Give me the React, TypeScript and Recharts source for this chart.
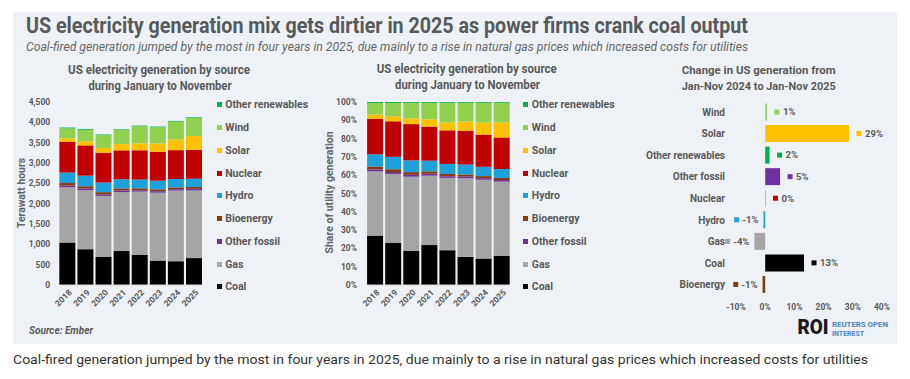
import React from 'react';
import { BarChart, Bar, XAxis, YAxis, Legend, LabelList, Cell } from 'recharts';

// Jan-Nov generation, TWh
const years = ['2018', '2019', '2020', '2021', '2022', '2023', '2024', '2025'];
const coal = [1045, 880, 690, 835, 745, 600, 585, 661];
const gas = [1358, 1450, 1500, 1450, 1550, 1670, 1735, 1666];
const otherFossil = [42, 40, 38, 40, 35, 37, 36, 38];
const bioenergy = [62, 58, 55, 52, 48, 47, 45, 45];
const hydro = [258, 260, 237, 222, 215, 210, 205, 203];
const nuclear = [752, 745, 734, 712, 720, 715, 710, 710];
const solar = [90, 100, 115, 153, 170, 200, 262, 338];
const wind = [245, 285, 315, 345, 420, 400, 440, 444];
const otherRenewables = [20, 20, 17, 17, 17, 17, 17, 17];

const twhTicks = [0, 500, 1000, 1500, 2000, 2500, 3000, 3500, 4000, 4500];
const shareTicks = [0, 0.1, 0.2, 0.3, 0.4, 0.5, 0.6, 0.7, 0.8, 0.9, 1];

// change Jan-Nov 2024 -> Jan-Nov 2025, %
const changeCategories = ['Wind', 'Solar', 'Other renewables', 'Other fossil', 'Nuclear', 'Hydro', 'Gas', 'Coal', 'Bioenergy'];
const changePct = [0.6, 28.7, 1.5, 5.1, 0.1, -0.6, -3.7, 13.3, -0.9];
const changeTicks = [-10, 0, 10, 20, 30, 40];

const COLORS: Record<string, string> = {
  Coal: '#000000',
  Gas: '#a5a5a5',
  'Other fossil': '#7030a0',
  Bioenergy: '#843c0c',
  Hydro: '#1ea0dc',
  Nuclear: '#c00000',
  Solar: '#ffc000',
  Wind: '#92d050',
  'Other renewables': '#00b050',
};

const sources = [
  { key: 'coal', name: 'Coal', values: coal },
  { key: 'gas', name: 'Gas', values: gas },
  { key: 'otherFossil', name: 'Other fossil', values: otherFossil },
  { key: 'bioenergy', name: 'Bioenergy', values: bioenergy },
  { key: 'hydro', name: 'Hydro', values: hydro },
  { key: 'nuclear', name: 'Nuclear', values: nuclear },
  { key: 'solar', name: 'Solar', values: solar },
  { key: 'wind', name: 'Wind', values: wind },
  { key: 'otherRenewables', name: 'Other renewables', values: otherRenewables },
];
const sourceOrder = sources.map((s) => s.name);

const genData = years.map((year, i) => {
  const row: Record<string, string | number> = { year };
  sources.forEach((s) => (row[s.key] = s.values[i]));
  return row;
});

const changeData = changeCategories.map((name, i) => ({ name, change: changePct[i] }));

const FONT = 'Roboto, sans-serif';
const GREY = '#595959';
const tickStyle = { fontSize: 8.5, fill: GREY, fontWeight: 700, fontFamily: FONT };

function YearTick({ x, y, payload }: any) {
  return (
    <text x={x + 3} y={y} transform={`rotate(-45 ${x + 3} ${y})`} textAnchor="end" dy="0.35em" style={tickStyle}>
      {payload.value}
    </text>
  );
}

// top of stack first, like the Excel legend
function SourceLegend({ payload }: any) {
  const items = [...(payload || [])].sort((a: any, b: any) => sourceOrder.indexOf(b.value) - sourceOrder.indexOf(a.value));
  return (
    <div style={{ whiteSpace: 'nowrap' }}>
      {items.map((it: any) => (
        <div key={it.value} style={{ display: 'flex', alignItems: 'center', height: 22.75 }}>
          <span style={{ width: 5, height: 5, background: it.color, marginRight: 3.5, display: 'inline-block' }} />
          <span style={{ fontFamily: FONT, fontSize: 10.5, fontWeight: 700, color: GREY }}>{it.value}</span>
        </div>
      ))}
    </div>
  );
}

function ChangeLabel(props: any) {
  const { x, y, width, height, value, index } = props;
  const left = Math.min(x, x + width);
  const right = Math.max(x, x + width);
  const cy = y + height / 2;
  const txt = `${Math.round(value)}%`;
  const color = COLORS[changeCategories[index]];
  const style = { fontSize: 9.5, fontWeight: 700, fill: GREY, fontFamily: FONT };
  if (value >= 0) {
    return (
      <g>
        <rect x={right + 7.5} y={cy - 2.5} width={5} height={5} fill={color} />
        <text x={right + 16} y={cy} dy="0.35em" style={style}>{txt}</text>
      </g>
    );
  }
  const tw = txt.length * 5.1;
  return (
    <g>
      <rect x={left - 5 - tw - 9} y={cy - 2.5} width={5} height={5} fill={color} />
      <text x={left - 5} y={cy} dy="0.35em" textAnchor="end" style={style}>{txt}</text>
    </g>
  );
}

function StackedChart({ expand, left, right, legendLeft }: { expand: boolean; left: number; right: number; legendLeft: number }) {
  return (
    <div style={{ position: 'absolute', left: 0, top: 0 }}>
      <BarChart
        width={910}
        height={379}
        data={genData}
        stackOffset={expand ? 'expand' : 'none'}
        barCategoryGap="6%"
        margin={{ top: 102, right, bottom: 64, left }}
      >
        <XAxis dataKey="year" height={30} tick={<YearTick />} tickLine={false} tickSize={0} tickMargin={6} axisLine={{ stroke: '#d9d9d9' }} interval={0} />
        {expand ? (
          <YAxis width={50} domain={[0, 1]} ticks={shareTicks} tickFormatter={(v: number) => `${Math.round(v * 100)}%`} tick={tickStyle} axisLine={false} tickLine={false} tickSize={0} tickMargin={9} />
        ) : (
          <YAxis width={50} domain={[0, 4500]} ticks={twhTicks} tickFormatter={(v: number) => v.toLocaleString('en-US')} tick={tickStyle} axisLine={false} tickLine={false} tickSize={0} tickMargin={8} />
        )}
        <Legend layout="vertical" align="center" verticalAlign="middle" wrapperStyle={{ left: legendLeft, top: 93.6, width: 120 }} content={<SourceLegend />} />
        {sources.map((s) => (
          <Bar key={s.key} dataKey={s.key} name={s.name} stackId="a" fill={COLORS[s.name]} isAnimationActive={false} />
        ))}
      </BarChart>
    </div>
  );
}

export default function App() {
  const t = { fontFamily: FONT, fontWeight: 700, fill: GREY } as const;
  return (
    <div style={{ position: 'absolute', left: 0, top: 0, width: 910, height: 379, background: '#fff', overflow: 'hidden' }}>
      <div style={{ position: 'absolute', left: 13, top: 12, width: 884, height: 332, background: '#eef2f7' }} />
      <StackedChart expand={false} left={8.25} right={707} legendLeft={216.7} />
      <StackedChart expand={true} left={316} right={399.3} legendLeft={523.3} />
      <div style={{ position: 'absolute', left: 0, top: 0 }}>
        <BarChart width={910} height={379} data={changeData} layout="vertical" margin={{ top: 101.5, right: 28, bottom: 63.5, left: 616 }}>
          <XAxis type="number" domain={[-10, 40]} ticks={changeTicks} tickFormatter={(v: number) => `${v}%`} height={20} tick={tickStyle} axisLine={false} tickLine={false} tickSize={0} tickMargin={8.5} />
          <YAxis type="category" dataKey="name" width={120} tick={{ ...tickStyle, fontSize: 10 }} axisLine={false} tickLine={false} tickSize={0} tickMargin={11} interval={0} />
          <Bar dataKey="change" barSize={17} isAnimationActive={false}>
            {changeData.map((d) => (
              <Cell key={d.name} fill={COLORS[d.name]} />
            ))}
            <LabelList dataKey="change" content={<ChangeLabel />} />
          </Bar>
        </BarChart>
      </div>
      <svg width={910} height={379} style={{ position: 'absolute', left: 0, top: 0, pointerEvents: 'none' }}>
        <text x={26} y={33} fontSize={22} textLength={722} lengthAdjust="spacingAndGlyphs" style={{ ...t, fill: '#58595b' }}>
          US electricity generation mix gets dirtier in 2025 as power firms crank coal output
        </text>
        <text x={26} y={51} fontSize={12.5} textLength={722} lengthAdjust="spacingAndGlyphs" fontStyle="italic" style={{ fontFamily: FONT, fill: '#666' }}>
          Coal-fired generation jumped by the most in four years in 2025, due mainly to a rise in natural gas prices which increased costs for utilities
        </text>

        <text x={159} y={74} fontSize={12.5} textAnchor="middle" textLength={182} lengthAdjust="spacingAndGlyphs" style={t}>US electricity generation by source</text>
        <text x={160} y={89.5} fontSize={12.5} textAnchor="middle" textLength={143} lengthAdjust="spacingAndGlyphs" style={t}>during January to November</text>
        <text x={466.7} y={73} fontSize={12.5} textAnchor="middle" textLength={180} lengthAdjust="spacingAndGlyphs" style={t}>US electricity generation by source</text>
        <text x={467.5} y={88.5} fontSize={12.5} textAnchor="middle" textLength={145} lengthAdjust="spacingAndGlyphs" style={t}>during January to November</text>
        <text x={758.7} y={74} fontSize={11.5} textAnchor="middle" textLength={154} lengthAdjust="spacingAndGlyphs" style={t}>Change in US generation from</text>
        <text x={758.7} y={89.5} fontSize={11.5} textAnchor="middle" textLength={154} lengthAdjust="spacingAndGlyphs" style={t}>Jan-Nov 2024 to Jan-Nov 2025</text>

        <text x={0} y={0} fontSize={10} textAnchor="middle" textLength={70} lengthAdjust="spacingAndGlyphs" transform="translate(24.5 193) rotate(-90)" style={{ ...t, fill: '#666' }}>Terawatt hours</text>
        <text x={0} y={0} fontSize={10} textAnchor="middle" textLength={122} lengthAdjust="spacingAndGlyphs" transform="translate(333 192.5) rotate(-90)" style={{ ...t, fill: '#666' }}>Share of utility generation</text>

        <text x={29} y={334} fontSize={10} fontStyle="italic" textLength={64} lengthAdjust="spacingAndGlyphs" style={t}>Source: Ember</text>

        <text x={797.5} y={334} fontSize={20} textLength={31} lengthAdjust="spacingAndGlyphs" style={{ fontFamily: FONT, fontWeight: 900, fill: '#1a1a1a' }}>ROI</text>
        <text x={832} y={326.5} fontSize={6.5} textLength={56} lengthAdjust="spacingAndGlyphs" style={{ fontFamily: FONT, fontWeight: 700, fill: '#4a86c5' }}>REUTERS OPEN</text>
        <text x={832} y={336} fontSize={6.5} textLength={32} lengthAdjust="spacingAndGlyphs" style={{ fontFamily: FONT, fill: '#4a86c5', fontWeight: 700 }}>INTEREST</text>

        <text x={13} y={364} fontSize={13.5} textLength={855} lengthAdjust="spacingAndGlyphs" style={{ fontFamily: FONT, fill: '#333' }}>
          Coal-fired generation jumped by the most in four years in 2025, due mainly to a rise in natural gas prices which increased costs for utilities
        </text>
      </svg>
    </div>
  );
}
